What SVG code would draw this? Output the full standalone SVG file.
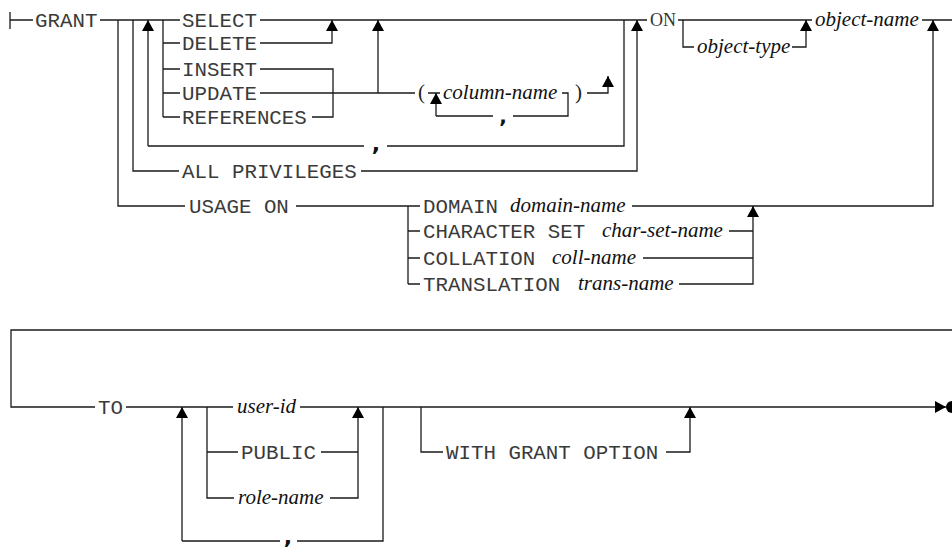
<svg xmlns="http://www.w3.org/2000/svg" width="952" height="549" viewBox="0 0 952 549">
<style>
.ln{fill:none;stroke:#1a1a1a;stroke-width:1.3}
.kw{font-family:"Liberation Mono","Courier New",monospace;font-size:20.8px;fill:#3a3a3a}
.it{font-family:"Liberation Serif","Times New Roman",serif;font-style:italic;font-size:21px;fill:#111}
.pr{font-family:"Liberation Serif","Times New Roman",serif;font-size:21px;fill:#222}
.on{font-family:"Liberation Serif","Times New Roman",serif;font-size:18px;fill:#333}
.cm{font-family:"DejaVu Sans",sans-serif;font-weight:bold;font-size:22px;fill:#111;text-anchor:middle}
.ar{marker-end:url(#arr)}
</style>
<defs>
<marker id="arr" viewBox="0 0 11 12" refX="11" refY="6" markerWidth="11" markerHeight="12" orient="auto" markerUnits="userSpaceOnUse">
<path d="M0,0 L11,6 L0,12 z" fill="#000"/>
</marker>
</defs>
<rect width="952" height="549" fill="#fff"/>
<g id="connectors">
<path class="ln" d="M10,12 V29 M10,20 H33 M100,20 H180 M260,20 H647 M678,20 H812 M922,20 H952"/>
<path class="ln" d="M163,20 V117 M163,43 H180 M163,69 H180 M163,93 H180 M163,117 H180"/>
<path class="ln ar" d="M260,43 H332 V20"/>
<path class="ln" d="M260,69 H333 V117 H312"/>
<path class="ln" d="M260,93 H415"/>
<path class="ln ar" d="M378,93 V20"/>
<path class="ln" d="M428,93 H440 M436,116 H493 M513,116 H568 V93 H562"/>
<path class="ln ar" d="M436,116 V93"/>
<path class="ln ar" d="M587,93 H608 V76"/>
<path class="ln ar" d="M148,146 V20"/>
<path class="ln" d="M148,146 H364 M387,146 H624 V20"/>
<path class="ln" d="M133,20 V171 H179"/>
<path class="ln ar" d="M361,171 H637 V20"/>
<path class="ln" d="M118,20 V206 H185 M296,206 H420"/>
<path class="ln" d="M408,206 V284 M408,231 H420 M408,258 H420 M408,284 H420"/>
<path class="ln ar" d="M632,206 H933 V20"/>
<path class="ln" d="M729,231 H753 M643,258 H753"/>
<path class="ln ar" d="M679,284 H753 V206"/>
<path class="ln" d="M683,20 V47 H694"/>
<path class="ln ar" d="M792,47 H806 V20"/>
<path class="ln" d="M952,330 H11 V407 H95 M126,407 H233"/>
<path class="ln ar" d="M300,407 H946"/>
<circle cx="952" cy="407" r="6" fill="#000"/>
<path class="ln ar" d="M182,541 V407"/>
<path class="ln" d="M182,541 H280 M297,541 H383 V407"/>
<path class="ln" d="M207,407 V498 H234 M207,452 H238 M321,452 H358"/>
<path class="ln ar" d="M330,498 H358 V407"/>
<path class="ln" d="M421,407 V452 H443"/>
<path class="ln ar" d="M666,452 H690 V407"/>
</g>
<g id="n-grant"><text class="kw" x="35" y="27">GRANT</text></g>
<g id="n-select"><text class="kw" x="182" y="27">SELECT</text></g>
<g id="n-delete"><text class="kw" x="182" y="50">DELETE</text></g>
<g id="n-insert"><text class="kw" x="182" y="76">INSERT</text></g>
<g id="n-update"><text class="kw" x="182" y="100">UPDATE</text></g>
<g id="n-references"><text class="kw" x="182" y="124">REFERENCES</text></g>
<g id="n-comma1"><text class="cm" x="376" y="151">,</text></g>
<g id="n-allpriv"><text class="kw" x="182" y="178">ALL PRIVILEGES</text></g>
<g id="n-usage"><text class="kw" x="189" y="213">USAGE ON</text></g>
<g id="n-column"><text class="pr" x="418" y="99">(</text><text class="it" x="443" y="99">column-name</text><text class="pr" x="575" y="99">)</text></g>
<g id="n-comma2"><text class="cm" x="503" y="123" style="font-size:20px">,</text></g>
<g id="n-on"><text class="on" x="650" y="26">ON</text></g>
<g id="n-objtype"><text class="it" x="697" y="53">object-type</text></g>
<g id="n-objname"><text class="it" x="815" y="26">object-name</text></g>
<g id="n-domain"><text class="kw" x="423" y="213">DOMAIN</text><text class="it" x="510" y="212">domain-name</text></g>
<g id="n-charset"><text class="kw" x="423" y="238">CHARACTER SET</text><text class="it" x="602" y="237">char-set-name</text></g>
<g id="n-collation"><text class="kw" x="423" y="265">COLLATION</text><text class="it" x="552" y="264">coll-name</text></g>
<g id="n-translation"><text class="kw" x="423" y="291">TRANSLATION</text><text class="it" x="578" y="290">trans-name</text></g>
<g id="n-to"><text class="kw" x="98" y="414">TO</text></g>
<g id="n-userid"><text class="it" x="237" y="413">user-id</text></g>
<g id="n-public"><text class="kw" x="241" y="459">PUBLIC</text></g>
<g id="n-rolename"><text class="it" x="238" y="504">role-name</text></g>
<g id="n-comma3"><text class="cm" x="288" y="544">,</text></g>
<g id="n-withgrant"><text class="kw" x="446" y="459">WITH GRANT OPTION</text></g>
</svg>
